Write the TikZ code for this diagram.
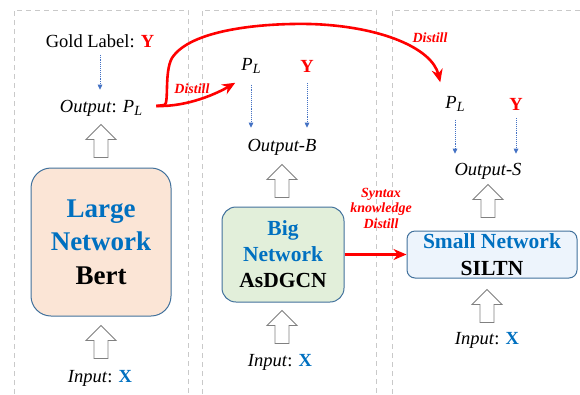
\documentclass[tikz,border=0pt]{standalone}
\usepackage{fontspec}
\setmainfont{Liberation Serif}
\usetikzlibrary{arrows.meta,calc}
\definecolor{netblue}{HTML}{0070C0}
\definecolor{boxline}{HTML}{41719C}
\definecolor{peach}{HTML}{FBE5D6}
\definecolor{sage}{HTML}{E2EFDA}
\definecolor{ice}{HTML}{EDF4FC}
\definecolor{dotblue}{HTML}{4472C4}
\definecolor{panelgray}{HTML}{C9C9C9}
\definecolor{arrowgray}{HTML}{808080}

\newcommand\PLsym{\textit{P}\raisebox{-0.35ex}{\fontsize{14}{14}\selectfont\textit{L}}}
\newcommand\Ybold{\textcolor{red}{\textbf{Y}}}
\newcommand\Xbold{\textcolor{netblue}{\textbf{X}}}

\begin{document}
\begin{tikzpicture}[x=1pt,y=-1pt,
  txt/.style={font=\fontsize{18.5}{22}\selectfont, inner sep=1pt},
  netbox/.style={draw=boxline, line width=1pt, align=center, inner sep=0pt},
  dotarrow/.style={dotblue, densely dotted, line width=0.9pt, -{Triangle[length=5pt,width=4.5pt]}},
  redarrow/.style={red, line width=2.6pt, -{Stealth[length=13pt,width=11pt]}},
  redline/.style={red, line width=2.6pt, line join=round},
  redlabel/.style={red, font=\fontsize{14}{15.5}\selectfont\bfseries\itshape, align=center, inner sep=0pt},
  panel/.style={panelgray, line width=0.9pt, dash pattern=on 5pt off 4pt},
  hollow/.pic={\draw[arrowgray, fill=white, line width=0.9pt]
      (-7,0) -- (-7,-18) -- (-15,-18) -- (0,-33) -- (15,-18) -- (7,-18) -- (7,0) -- cycle;}
]
\useasboundingbox (0,0) rectangle (580,394);

% three dashed panels
\draw[panel] (14,394) -- (14,10) -- (188,10) -- (188,394);
\draw[panel] (202,394) -- (202,10) -- (376,10) -- (376,394);
\draw[panel] (392,394) -- (392,10) -- (580,10);

% large network (teacher)
\node[txt] (gold) at (100,41) {Gold Label: \Ybold};
\node[txt] (outL) at (101,108) {\textit{Output}: \PLsym};
\node[netbox, fill=peach, rounded corners=20pt, minimum width=140, minimum height=148,
      font=\fontsize{27}{33.5}\selectfont\bfseries] (large) at (101,242)
      {\textcolor{netblue}{Large}\\\textcolor{netblue}{Network}\\Bert};
\node[txt] (in1) at (100,378) {\textit{Input}: \Xbold};

% big network (assistant)
\node[txt] (pl2) at (251,66) {\PLsym};
\node[txt] (y2) at (307,66) {\Ybold};
\node[txt] (outB) at (282,147) {\textit{Output-B}};
\node[netbox, fill=sage, rounded corners=14pt, minimum width=122, minimum height=95,
      font=\fontsize{21.5}{26}\selectfont\bfseries] (big) at (283,254.5)
      {\textcolor{netblue}{Big}\\\textcolor{netblue}{Network}\\AsDGCN};
\node[txt] (in2) at (280,362) {\textit{Input}: \Xbold};

% small network (student)
\node[txt] (pl3) at (455,104) {\PLsym};
\node[txt] (y3) at (516,104) {\Ybold};
\node[txt] (outS) at (488,171) {\textit{Output-S}};
\node[netbox, fill=ice, rounded corners=8pt, minimum width=170, minimum height=47,
      font=\fontsize{21.5}{27}\selectfont\bfseries] (small) at (492,254.5)
      {\textcolor{netblue}{Small Network}\\SILTN};
\node[txt] (in3) at (487,340) {\textit{Input}: \Xbold};

% dotted label arrows
\draw[dotarrow, shorten <=6pt, shorten >=9pt] (gold.south) -- (gold.south |- outL.north);
\draw[dotarrow, shorten <=10pt, shorten >=10pt] (pl2.south) -- (pl2.south |- outB.north);
\draw[dotarrow, shorten <=10pt, shorten >=10pt] (y2.south) -- (y2.south |- outB.north);
\draw[dotarrow, shorten <=7pt, shorten >=8pt] (pl3.south) -- (pl3.south |- outS.north);
\draw[dotarrow, shorten <=7pt, shorten >=8pt] (y3.south) -- (y3.south |- outS.north);

% hollow flow arrows
\pic at ($(outL |- large.north)+(0,-10)$) {hollow};
\pic at ($(outL |- large.south)+(0,42)$) {hollow};
\pic at ($(outB |- big.north)+(0,-9)$) {hollow};
\pic at ($(outB |- big.south)+(0,41)$) {hollow};
\pic at ($(outS |- small.north)+(0,-13)$) {hollow};
\pic at ($(in3 |- small.south)+(0,44)$) {hollow};

% distillation arrows
\coordinate (rs) at ($(outL.east)+(13,-2)$);
\draw[redarrow] (rs) .. controls +(32,1) and ($(pl2.south west)+(-22,18)$) .. ($(pl2.south west)+(-5,8)$);
\draw[redarrow, line join=round] (rs) -- ++(8,-1) .. controls +(5,-1) and (164,72) .. (172,58)
      .. controls (190,30) and (260,23) .. (310,24)
      .. controls (380,26) and (432,48) .. ($(pl3.north west)+(-4,-13)$);
\draw[redarrow] (big.east) -- (small.west);

\node[redlabel] (d1) at (192,89) {Distill};
\node[redlabel] (d2) at (430,38) {Distill};
\node[redlabel] (d3) at (381,208) {Syntax\\knowledge\\Distill};
\end{tikzpicture}
\end{document}
